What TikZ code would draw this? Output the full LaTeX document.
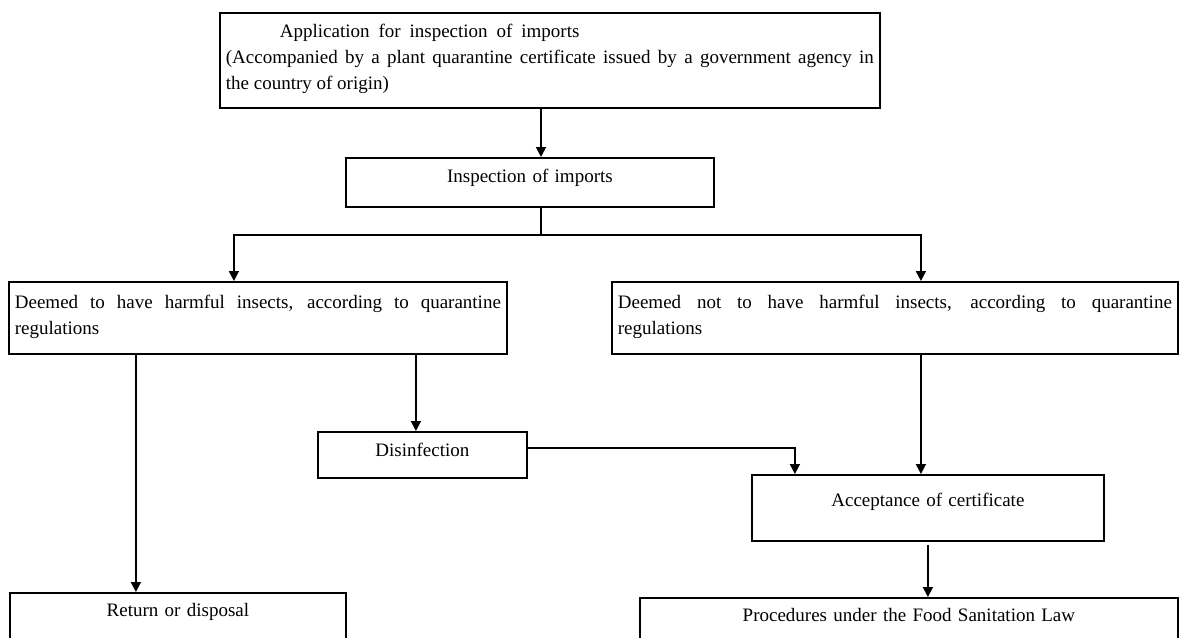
\documentclass[tikz,border=0pt]{standalone}
\usepackage{fontspec}
\setmainfont{Liberation Serif}
\usetikzlibrary{arrows.meta, positioning}
\hyphenpenalty=10000
\exhyphenpenalty=10000

\begin{document}
\begin{tikzpicture}[x=1pt, y=-1pt,
      box/.style={draw, line width=1.8pt, anchor=north west, inner xsep=6pt, inner ysep=4pt,
        font=\fontsize{19pt}{26pt}\selectfont},
      link/.style={line width=1.8pt},
      arrow/.style={-{Triangle[length=10pt, width=10pt]}, line width=1.8pt}
    ]
      \useasboundingbox (0,0) rectangle (1180,637);
      % boxes
      \node[box, align=justify, text width=648pt, text height=21pt, text depth=66pt] (app) at (219,12)
        {{\spaceskip=0.47em\relax\hspace*{54pt}Application for inspection of imports\par}
         (Accompanied by a plant quarantine certificate issued by a government agency in\linebreak the country of origin)};
      \node[box, text width=356pt, align=center, text height=21pt, text depth=20pt] (insp) at (345,157) {Inspection of imports};
      \node[box, align=justify, text width=486pt, text height=23pt, text depth=41pt] (harm) at (8,281)
        {Deemed to have harmful insects, according to quarantine\linebreak regulations};
      \node[box, align=justify, text width=554pt, text height=23pt, text depth=41pt] (noharm) at (611,281)
        {Deemed not to have harmful insects, according to quarantine\linebreak regulations};
      \node[box, text width=197pt, align=center, text height=21pt, text depth=17pt] (disinf) at (317,431) {Disinfection};
      \node[box, text width=340pt, align=center, text height=28pt, text depth=30pt] (accept) at (751,474) {Acceptance of certificate};
      \node[box, text width=324pt, align=center, text height=20pt, text depth=30pt] (ret) at (9,592) {Return or disposal};
      \node[box, text width=526pt, align=center, text height=20pt, text depth=30pt] (food) at (639,597) {Procedures under the Food Sanitation Law};
      % connectors
      \coordinate (split) at (541,235);
      \draw[arrow] (split |- app.south) -- (split |- insp.north);
      \draw[link] (split |- insp.south) -- (split);
      \draw[arrow] (split) -| ([xshift=-24pt]harm.north);
      \draw[arrow] (split) -| ([xshift=26pt]noharm.north);
      \draw[arrow] ([xshift=-122pt]harm.south) -- ([xshift=-122pt]harm.south |- ret.north);
      \draw[arrow] ([xshift=-6.5pt]disinf.north |- harm.south) -- ([xshift=-6.5pt]disinf.north);
      \draw[arrow] ([yshift=7pt]disinf.east) -| ([xshift=-133pt]accept.north);
      \draw[arrow] ([xshift=-7pt]accept.north |- noharm.south) -- ([xshift=-7pt]accept.north);
      \draw[arrow] ([yshift=-3pt]accept.south) -- (accept.south |- food.north);
    \end{tikzpicture}
\end{document}
